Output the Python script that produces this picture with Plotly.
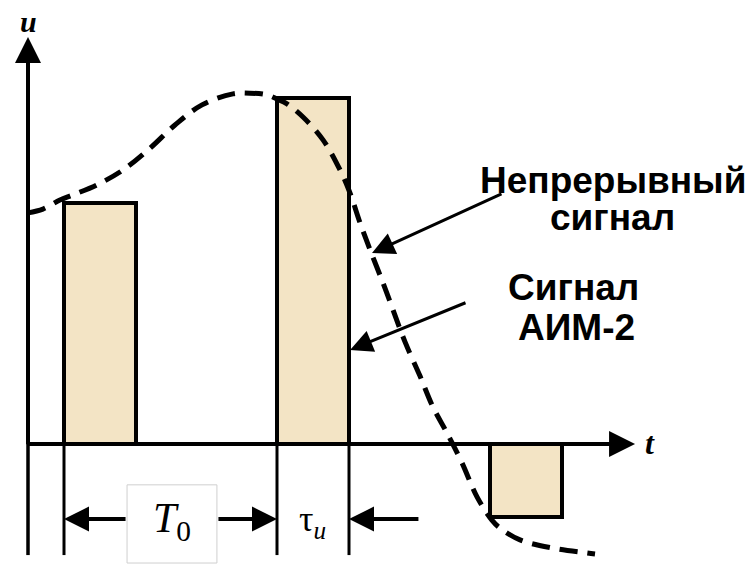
import plotly.graph_objects as go

# ---- data (t in units where T0 = 10, u in units where 2nd sample = 100) ----
curve_t = [0.00, 0.70, 1.50, 2.11, 3.24, 4.46, 5.73, 6.90, 8.17, 9.62, 10.42, 11.22,
           11.69, 12.16, 12.91, 13.85, 14.65, 15.12, 15.59, 16.06, 16.67, 17.14, 17.70,
           18.40, 19.01, 19.67, 20.38, 21.08, 21.78, 22.16, 23.10, 24.65, 26.24, 26.62]
curve_u = [66.8, 67.9, 70.5, 72.0, 74.9, 79.2, 85.5, 92.2, 98.0, 101.2, 101.4, 100.9,
           99.7, 98.3, 94.5, 87.9, 79.2, 72.5, 63.9, 56.1, 46.5, 38.7, 29.5,
           19.7, 10.7, 3.2, -5.5, -15.3, -22.0, -24.3, -27.7, -30.1, -31.5, -31.8]

sample_t = [1.69, 11.69, 21.69]       # sampling instants
sample_u = [69.7, 100.0, -21.1]       # held (flat-top) values
tau = 3.38                            # pulse duration
T0_start, T0_end = 1.69, 11.69
tau_start, tau_end = 11.69, 15.07

labels_signal = ["Непрерывный", "сигнал", "Сигнал", "АИМ-2"]

BAR_FILL = "#F3E4C5"

fig = go.Figure()

# sampled pulses (AIM-2)
fig.add_trace(go.Bar(
    x=[t + tau / 2 for t in sample_t], y=sample_u, base=0, width=tau,
    marker=dict(color=BAR_FILL, line=dict(color="black", width=4)),
    hoverinfo="skip"))

# extension lines below axis
ext_t = [T0_start, tau_start, tau_end]
ext_x, ext_y = [], []
for t in ext_t:
    ext_x += [t, t, None]
    ext_y += [0, -32.1, None]
fig.add_trace(go.Scatter(x=ext_x, y=ext_y, mode="lines",
                         line=dict(color="black", width=3), hoverinfo="skip"))

# continuous signal
fig.add_trace(go.Scatter(x=curve_t, y=curve_u, mode="lines",
                         line=dict(color="black", width=5, dash="18px,10px", shape="spline"),
                         hoverinfo="skip"))

# y axis line (below origin part)
fig.add_trace(go.Scatter(x=[0, 0], y=[-32.1, 0], mode="lines",
                         line=dict(color="black", width=3.5), hoverinfo="skip"))

ann = []
def arrow(x0, y0, x1, y1, w=3.5, size=1.3):
    ann.append(dict(x=x1, y=y1, ax=x0, ay=y0, xref="x", yref="y", axref="x", ayref="y",
                    text="", showarrow=True, arrowhead=2, arrowsize=size, arrowwidth=w,
                    arrowcolor="black", standoff=0, startstandoff=0))

# axes arrows
arrow(0, -0.5, 0, 117.6, w=4, size=1.3)
arrow(-0.08, 0, 28.5, 0, w=4, size=1.3)
# dimension arrows
arrow(4.65, -21.7, T0_start, -21.7, w=4, size=1.25)
arrow(8.87, -21.7, T0_end, -21.7, w=4, size=1.25)
arrow(18.40, -21.7, tau_end, -21.7, w=4, size=1.25)
# label arrows
arrow(22.30, 72.5, 16.15, 55.2, w=3, size=1.5)
arrow(20.61, 41.0, 15.12, 27.2, w=3, size=1.5)

serif = "Liberation Serif, Times New Roman, serif"
sans = "Liberation Sans, Arial, sans-serif"

ann.append(dict(x=0, y=122.0, xref="x", yref="y", text="<b><i>u</i></b>", showarrow=False,
                font=dict(family=serif, size=30, color="black")))
ann.append(dict(x=29.2, y=0.4, xref="x", yref="y", text="<b><i>t</i></b>", showarrow=False,
                font=dict(family=serif, size=32, color="black")))
ann.append(dict(x=(4.65 + 8.87) / 2, y=-22.2, xref="x", yref="y",
                text="<i>T</i><sub>0</sub>", showarrow=False,
                font=dict(family=serif, size=42, color="black")))
ann.append(dict(x=13.35, y=-22.3, xref="x", yref="y",
                text="τ<sub><i>u</i></sub>", showarrow=False,
                font=dict(family=serif, size=36, color="black")))

pos = [(27.46, 76.3), (27.46, 65.6), (25.59, 45.1), (25.77, 33.8)]
for (x, y), s in zip(pos, labels_signal):
    ann.append(dict(x=x, y=y, xref="x", yref="y", text=s, showarrow=False,
                    font=dict(family=sans, size=37, color="black", weight="bold")))

shapes = [dict(type="rect", xref="x", yref="y", x0=4.65, x1=8.87, y0=-11.8, y1=-34.4,
               line=dict(color="#cfcfcf", width=1), fillcolor="rgba(0,0,0,0)", layer="above")]

fig.update_layout(
    width=755, height=574, margin=dict(l=0, r=0, t=0, b=0),
    paper_bgcolor="white", plot_bgcolor="white", showlegend=False,
    xaxis=dict(range=[-1.3146, 34.131], visible=False, fixedrange=True),
    yaxis=dict(range=[-37.572, 128.324], visible=False, fixedrange=True),
    annotations=ann, shapes=shapes, bargap=0,
)

fig.write_html("out.html", config={"displayModeBar": False},
               post_script="document.body.style.margin='0';document.body.style.overflow='hidden';")
